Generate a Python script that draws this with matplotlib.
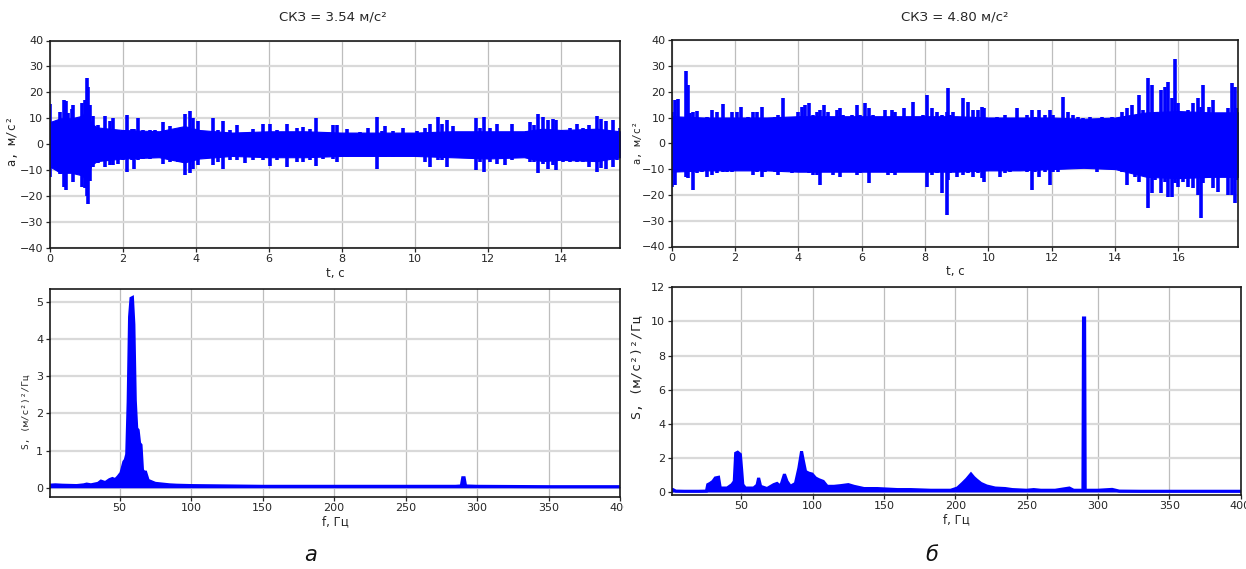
import numpy as np
import matplotlib
matplotlib.use('Agg')
import matplotlib.pyplot as plt
from matplotlib.transforms import Bbox, TransformedBbox

# ---------------- data ----------------
# panel а: acceleration spikes (time, upper, lower)
tA = [0.0, 0.06, 0.2, 0.29, 0.40, 0.45, 0.52, 0.61, 0.65, 0.74,
      0.88, 0.97, 1.02, 1.05, 1.11, 1.2, 1.34, 1.52, 1.66, 1.73,
      1.89, 2.02, 2.13, 2.25, 2.32, 2.42, 2.57, 2.75, 2.89, 3.12,
      3.30, 3.53, 3.71, 3.85, 3.94, 4.08, 4.31, 4.49, 4.63, 4.74,
      4.95, 5.13, 5.36, 5.58, 5.86, 6.04, 6.22, 6.50, 6.77, 6.95,
      7.14, 7.30, 7.50, 7.77,
      7.87, 8.14, 8.51, 8.73, 8.98, 9.1, 9.19, 9.42, 9.69, 9.88,
      10.08, 10.29, 10.42, 10.65, 10.74, 10.90, 11.06, 11.34, 11.52, 11.68,
      11.79, 11.90, 12.07, 12.25, 12.48, 12.66, 12.89, 13.07, 13.16, 13.27,
      13.39, 13.53, 13.67, 13.80, 13.89, 14.08, 14.26, 14.44, 14.62, 14.79,
      14.99, 15.10, 15.26, 15.45, 15.54, 15.63]
hiA = [15.6, 8.6, 8.6, 12.5, 17.2, 16.5, 12, 13.5, 15, 9,
       16, 17, 25.6, 22, 15, 11, 7.3, 11, 9, 10,
       5.4, 5.4, 11.2, 6, 6, 10.2, 5.4, 5.4, 5.6, 8.6,
       7, 6, 11.5, 12.8, 10.2, 9, 3.5, 10.2, 5.4, 9,
       5.4, 7.5, 4.2, 6, 8, 8, 5.4, 8, 6.4, 6.6,
       6, 10, 3.5, 7.5,
       7.3, 6, 4.7, 6.4, 10.5, 5, 7.2, 5, 6.4, 3.5,
       5, 6.4, 8, 10.5, 8, 9.2, 7, 4.8, 4.8, 10.2,
       6.4, 10.5, 6.4, 7.7, 4.7, 7.7, 4.7, 5, 8.6, 7.3,
       11.5, 10.5, 9.2, 9.8, 9.5, 4.7, 6.4, 7.7, 6.4, 7.3,
       11, 9.8, 9, 9.5, 4, 6.4]
loA = [-12.5, -8, -8, -11.3, -16.4, -17.7, -11, -11, -14.5, -8.7,
       -16.4, -17, -20, -23, -14, -8.7, -7.4, -8.7, -8, -8,
       -7.5, -6, -10.6, -6, -9.4, -6, -5.5, -5.5, -4.2, -7.7,
       -7, -6.8, -12, -11, -9.4, -8, -4.2, -8, -7, -9.4,
       -6, -6, -7.4, -6, -6, -8.3, -6, -8.7, -6.8, -6.8,
       -6, -8.3, -5.5, -5.5,
       -6.8, -4.9, -4.5, -4.5, -9.7, -5, -4.9, -4.9, -4.5, -4.5,
       -4.5, -6.8, -8.7, -6.2, -6, -8.7, -4.5, -4.5, -5, -10,
       -7, -10.6, -6.8, -7.8, -8, -6, -4.5, -4.5, -6.8, -7,
       -11, -7.7, -9.4, -8, -10, -6.8, -6.8, -6.8, -7, -8.7,
       -10.6, -9, -9.4, -8.7, -6, -5]
# panel а: solid core of the band
tcA = [0, 0.3, 0.6, 0.9, 1.0, 1.15, 1.3, 2, 3, 3.7, 4.1, 5, 6, 7, 8, 9,
       10, 11, 12, 13, 13.5, 14, 15, 15.63]
hcA = [8.5, 10, 10, 11, 13, 8, 6.5, 5.5, 5, 7, 5.5, 4.5, 5, 5, 4.5, 4.5,
       4.5, 5, 5, 5, 6, 5.5, 6, 5]
lcA = [-8.5, -11, -11, -12, -14, -8, -6.5, -5.5, -5, -7, -5.5, -4.5, -5,
       -5, -4.5, -4.5, -4.5, -5, -5.5, -5, -6.5, -6, -6.5, -5]

# panel б: acceleration spikes (time, upper, lower)
tB = [0.0, 0.10, 0.19, 0.26, 0.37, 0.44, 0.50, 0.58, 0.68, 0.79,
      0.95, 1.10, 1.26, 1.42, 1.63, 1.74, 1.89, 2.05, 2.19, 2.31,
      2.42, 2.58, 2.68, 2.84, 2.95, 3.10, 3.26, 3.37, 3.53, 3.63,
      3.79, 3.98, 4.10, 4.21, 4.33, 4.47, 4.58, 4.68, 4.82, 4.95,
      5.10, 5.21, 5.31, 5.42, 5.56, 5.68, 5.84, 5.95, 6.10, 6.23,
      6.37, 6.52, 6.73, 6.84, 6.95, 7.05, 7.16, 7.35, 7.47, 7.63,
      7.79, 7.95, 8.06, 8.21, 8.37, 8.52, 8.68, 8.73,
      8.79, 8.89, 9.00, 9.21, 9.37, 9.52, 9.68, 9.79, 9.86, 10.05,
      10.26, 10.37, 10.52, 10.68, 10.89, 11.05, 11.21, 11.37, 11.47, 11.61,
      11.79, 11.95, 12.05, 12.21, 12.37, 12.52, 12.68, 12.84, 13.0, 13.21,
      13.42, 13.58, 13.74, 13.89, 14.05, 14.21, 14.37, 14.52, 14.63, 14.77,
      14.89, 15.05, 15.16, 15.26, 15.45, 15.58, 15.68, 15.79, 15.89, 16.0,
      16.15, 16.31, 16.47, 16.63, 16.70, 16.79, 16.95, 17.1, 17.26, 17.42,
      17.58, 17.68, 17.79, 17.86]
hiB = [12.3, 16.8, 17.0, 7.1, 9.0, 28.2, 22.6, 11.6, 12.3, 12.6,
       9.0, 10.1, 12.9, 12.3, 15.2, 9.0, 12.3, 12.3, 14.2, 9.0,
       10.3, 12.3, 12.3, 14.2, 8.4, 9.7, 10.3, 11.0, 17.4, 9.0,
       9.7, 12.3, 14.2, 14.8, 15.7, 11.0, 12.3, 12.9, 14.8, 12.3,
       10.3, 12.9, 13.6, 11.0, 5.8, 11.0, 14.8, 11.0, 15.5, 13.6,
       11.0, 9.0, 12.9, 9.7, 12.9, 12.3, 9.7, 13.6, 9.0, 16.1,
       9.7, 11.0, 18.7, 13.6, 12.3, 11.0, 12.3, 21.3,
       11.0, 12.3, 9.7, 17.4, 16.1, 12.9, 12.9, 14.2, 13.6, 9.7,
       10.3, 9.7, 11.0, 9.0, 13.6, 9.7, 11.0, 12.9, 10.3, 12.9,
       11.0, 12.9, 11.0, 9.0, 17.8, 12.3, 11.0, 10.3, 9.7, 10.3,
       6.2, 10.3, 9.0, 10.1, 7.1, 12.3, 13.6, 14.8, 10.3, 18.7,
       12.9, 25.2, 22.6, 12.3, 20.7, 21.9, 23.9, 17.4, 32.7, 15.5,
       12.3, 12.9, 15.5, 17.4, 14.2, 22.6, 14.2, 16.8, 10.3, 9.7,
       13.6, 23.2, 21.9, 13.6]
loB = [-16.8, -16.2, -11.0, -8.4, -9.0, -13.0, -13.6, -9.7, -18.1, -11.7,
       -11.0, -13.0, -12.3, -11.7, -11.0, -11.0, -11.0, -9.7, -10.4, -9.7,
       -10.4, -12.3, -11.0, -13.0, -11.0, -9.0, -11.0, -12.3, -8.4, -10.4,
       -11.7, -9.7, -9.0, -11.0, -11.7, -12.3, -12.3, -16.2, -10.4, -9.0,
       -12.3, -11.0, -13.0, -11.0, -9.0, -11.0, -12.3, -11.7, -11.0, -15.5,
       -11.0, -11.0, -11.0, -12.3, -11.7, -12.3, -11.0, -10.4, -11.0, -11.0,
       -11.0, -10.4, -16.8, -12.3, -11.7, -19.4, -27.8, -14.2,
       -11.7, -11.0, -13.0, -12.3, -11.7, -13.0, -11.7, -13.6, -14.9, -10.4,
       -10.4, -13.0, -11.7, -11.0, -10.4, -9.7, -11.0, -18.1, -11.0, -13.0,
       -11.0, -16.2, -11.0, -11.0, -9.7, -9.0, -8.4, -9.0, -7.8, -9.7,
       -11.0, -9.7, -8.4, -8.8, -9.0, -11.0, -16.2, -11.0, -13.0, -14.9,
       -11.7, -25.2, -19.4, -14.2, -19.4, -14.9, -20.7, -20.7, -15.5, -16.8,
       -14.9, -16.8, -17.5, -20.0, -29.1, -15.5, -13.6, -17.5, -18.7, -9.7,
       -20.0, -20.0, -23.3, -14.2]
# panel б: solid core of the band
tcB = [0, 1, 2, 3, 4, 5, 6, 7, 8, 9, 10, 11, 12, 13, 14, 14.5, 15, 16,
       17, 17.89]
hcB = [10.5, 10, 10, 10, 10.5, 10.5, 10.5, 10.5, 10.5, 10.5, 10, 10, 10,
       9.5, 10, 11, 12, 12.5, 12, 12]
lcB = [-11, -10.5, -10.5, -10.5, -11, -11, -11, -11, -11, -11, -10.5,
       -10.5, -10, -9.5, -10, -11.5, -13, -13.5, -13, -13]

# panel а: spectrum
fA = [1, 5, 10, 20, 25, 27, 30, 35, 37, 40, 43, 45, 47, 49, 51, 53, 54, 55,
      56, 57, 58, 59, 60, 61, 62, 63, 64, 65, 66, 67, 68, 70, 75, 80, 85, 90,
      100, 150, 200, 250, 285, 289, 290, 291, 292, 300, 350, 400]
SA = [0.07, 0.08, 0.07, 0.06, 0.08, 0.1, 0.08, 0.12, 0.18, 0.14, 0.22, 0.25,
      0.22, 0.3, 0.4, 0.7, 0.75, 0.9, 2.3, 4.6, 5.1, 5.12, 4.4, 2.35, 1.6,
      1.55, 1.2, 1.15, 0.5, 0.35, 0.45, 0.2, 0.12, 0.1, 0.08, 0.07, 0.06,
      0.04, 0.04, 0.04, 0.04, 0.05, 0.27, 0.27, 0.05, 0.04, 0.03, 0.03]

# panel б: spectrum
fB = [1, 2, 4, 10, 20, 25.5, 26.4, 28, 30, 31.7, 34, 35.2, 40, 43.4, 45, 46,
      47.4, 49.3, 50.2, 51, 52.8, 58.6, 61, 62.1, 63.5, 68, 72.7, 75, 77.5,
      80.2, 82, 84.4, 87.9, 90.3, 92.2, 93.3, 95, 97.3, 99.6, 102, 104.3,
      107.4, 110.2, 114.9, 119.6, 125, 129, 136, 145.3, 150, 159.4, 168.7,
      182.8, 196.8, 201.5, 205, 208, 211, 213, 215, 218, 222, 228, 235, 240,
      250, 255, 260, 270, 280, 283, 289.5, 289.9, 290.7, 291.1, 300, 310,
      315, 330, 400]
SB = [0.14, 0.14, 0.05, 0.04, 0.04, 0.05, 0.43, 0.5, 0.62, 0.82, 0.86, 0.23,
      0.23, 0.43, 0.62, 2.27, 2.33, 2.2, 1.3, 0.43, 0.23, 0.23, 0.4, 0.82,
      0.33, 0.2, 0.43, 0.5, 0.33, 1.04, 0.62, 0.33, 0.5, 1.4, 2.38, 1.9,
      1.2, 1.1, 1.05, 0.82, 0.72, 0.62, 0.33, 0.33, 0.37, 0.43, 0.33, 0.2,
      0.2, 0.18, 0.14, 0.14, 0.1, 0.1, 0.23, 0.5, 0.75, 1.05, 0.85, 0.7,
      0.5, 0.35, 0.23, 0.2, 0.14, 0.1, 0.14, 0.1, 0.1, 0.23, 0.1, 0.1, 10.2,
      10.2, 0.1, 0.1, 0.15, 0.05, 0.04, 0.04]

titles = ['СКЗ = 3.54 м/с²', 'СКЗ = 4.80 м/с²']
time_ticks_A = [0, 2, 4, 6, 8, 10, 12, 14]
time_ticks_B = [0, 2, 4, 6, 8, 10, 12, 14, 16]
acc_ticks = [-40, -30, -20, -10, 0, 10, 20, 30, 40]
acc_labels = ['−40', '−30', '−20', '−10', '0', '10', '20', '30', '40']
freq_ticks = [50, 100, 150, 200, 250, 300, 350, 400]
spec_ticks_A = [0, 1, 2, 3, 4, 5]
spec_ticks_B = [0, 2, 4, 6, 8, 10, 12]
panel_letters = ['а', 'б']

# ---------------- figure ----------------
W, H = 1246, 569
fig = plt.figure(figsize=(W / 100, H / 100), dpi=100)
fig.patch.set_facecolor('white')

BLUE = '#0000ff'
TXT = '#262626'


def ax_px(l, t, r, b):
    return fig.add_axes([l / W, 1 - b / H, (r - l) / W, (b - t) / H])


def style(ax):
    ax.set_axisbelow(True)
    ax.grid(True, axis='x', color='#bdbdbd', lw=0.9)
    ax.grid(True, axis='y', color='#d9d9d9', lw=1.6)
    for s in ax.spines.values():
        s.set_color('#1a1a1a')
        s.set_linewidth(1.2)
    ax.tick_params(direction='out', length=3, width=0.9, labelsize=8,
                   colors=TXT, pad=1.5)


def ftext(x, y, s, **kw):
    return fig.text(x / W, 1 - y / H, s, **kw)


axTL = ax_px(49.5, 40.5, 620, 248)
axTR = ax_px(671.7, 40.1, 1238.3, 246.5)
axBL = ax_px(49.5, 289, 620, 496.7)
axBR = ax_px(671.5, 287.3, 1240.5, 494.5)

# time signals: solid core + spikes
for ax, tc, hc, lc, t, hi, lo, xmax, xt in [
        (axTL, tcA, hcA, lcA, tA, hiA, loA, 15.63, time_ticks_A),
        (axTR, tcB, hcB, lcB, tB, hiB, loB, 17.89, time_ticks_B)]:
    style(ax)
    ax.fill_between(tc, lc, hc, color=BLUE, lw=0.8, edgecolor=BLUE)
    ax.vlines(t, lo, hi, color=BLUE, lw=2.6)
    ax.set_xlim(0, xmax)
    ax.set_ylim(-40, 40)
    ax.set_xticks(xt)
    ax.set_yticks(acc_ticks)
    ax.set_yticklabels(acc_labels)

# spectra
for ax, f, S, yl, yt in [(axBL, fA, SA, (-0.24, 5.35), spec_ticks_A),
                         (axBR, fB, SB, (-0.15, 12.0), spec_ticks_B)]:
    style(ax)
    ax.fill_between(f, 0, S, color=BLUE, lw=0)
    ax.plot(f, S, color=BLUE, lw=2.2, solid_joinstyle='miter')
    ax.set_xlim(1, 400)
    ax.set_ylim(*yl)
    ax.set_xticks(freq_ticks)
    ax.set_yticks(yt)

# the "400" label of the left spectrum is cut at the panel border
clip = TransformedBbox(Bbox.from_extents(0, 0, 624 / W, 1), fig.transFigure)
for tk in axBL.xaxis.get_major_ticks():
    tk.label1.set_clip_box(clip)
    tk.label1.set_clip_on(True)

# titles
ftext(333, 17, titles[0], ha='center', va='center', fontsize=9.5, color=TXT)
ftext(955, 17, titles[1], ha='center', va='center', fontsize=9.5, color=TXT)

# axis labels
mono = 'DejaVu Sans Mono'
ftext(12.7, 141, 'a, м/с²', rotation=90, ha='center', va='center',
      fontsize=8.5, family=mono, color=TXT)
ftext(637.5, 143, 'a, м/с²', rotation=90, ha='center', va='center',
      fontsize=7.4, family=mono, color=TXT)
ftext(26, 412, 'S, (м/с²)²/Гц', rotation=90, ha='center', va='center',
      fontsize=6.8, family=mono, color=TXT)
ftext(637.5, 367, 'S, (м/с²)²/Гц', rotation=90, ha='center', va='center',
      fontsize=9.5, family=mono, color=TXT)

ftext(335, 273, 't, с', ha='center', va='center', fontsize=8.5, color=TXT)
ftext(955, 272, 't, с', ha='center', va='center', fontsize=8.5, color=TXT)
ftext(335, 522, 'f, Гц', ha='center', va='center', fontsize=8.5, color=TXT)
ftext(956, 520, 'f, Гц', ha='center', va='center', fontsize=8.5, color=TXT)

# panel letters
ftext(311, 555, panel_letters[0], ha='center', va='center', fontsize=15,
      style='italic', color='#111111')
ftext(932, 555, panel_letters[1], ha='center', va='center', fontsize=15,
      style='italic', color='#111111')

fig.savefig('out.png', dpi=100, facecolor='white')
